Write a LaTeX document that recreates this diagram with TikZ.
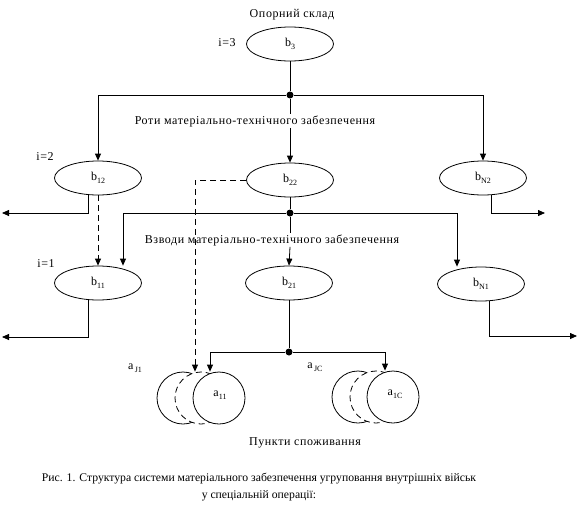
\documentclass[tikz,border=0pt]{standalone}
\usepackage{fontspec}
\setmainfont{Liberation Serif}
\newfontfamily\lblfont[LetterSpace=5]{Liberation Serif}
\usetikzlibrary{shapes.geometric,arrows.meta}
\newcommand\mysub[1]{\raisebox{-3pt}{\fontsize{8}{8}\selectfont #1}}
\begin{document}
\begin{tikzpicture}[x=1pt,y=-1pt, line width=0.8pt,
 ell/.style={draw,ellipse,minimum width=87pt,minimum height=34pt,inner sep=0pt,font=\fontsize{12}{14}\selectfont},
 arr/.style={-{Triangle[length=7pt,width=6pt]}},
 dsh/.style={dash pattern=on 6pt off 4pt},
 jdot/.style={circle,fill,inner sep=0pt,minimum size=7pt},
 lbl/.style={font=\lblfont\fontsize{12}{14}\selectfont, inner sep=1pt},
 captext/.style={font=\fontsize{11.7}{17}\selectfont, inner sep=1pt, align=center},
 sublbl/.style={inner sep=0pt,font=\fontsize{12}{14}\selectfont},
 circ/.style={circle,draw,fill=white,minimum size=52pt,inner sep=0pt},
]
\useasboundingbox (0,0) rectangle (578,530);

% texts
\node[lbl] (top) at (292,15) {Опорний склад};
\node[lbl] (i3) at (227,43) {i=3};
\node[lbl] (i2) at (45,157) {i=2};
\node[lbl] (i1) at (46,264) {i=1};
\node[lbl] (rota) at (255,121) {Роти матеріально-технічного забезпечення};
\node[lbl] (vzv) at (272,240) {Взводи матеріально-технічного забезпечення};
\node[lbl] (pnk) at (305,443) {Пункти споживання};
\node[captext] (caption) at (259,487) {Рис. 1. Структура системи матеріального забезпечення угруповання внутрішніх військ\\у спеціальній операції:};

% ellipses
\node[ell] (b3) at (290,44) {b\mysub{3}};
\node[ell] (b12) at (98,178) {b\mysub{12}};
\node[ell] (b22) at (290,180) {b\mysub{22}};
\node[ell] (bN2) at (483,178) {b\mysub{N2}};
\node[ell] (b11) at (98,283) {b\mysub{11}};
\node[ell] (b21) at (289,283) {b\mysub{21}};
\node[ell] (bN1) at (481,284) {b\mysub{N1}};

% junctions
\node[jdot] (j1) at (290,95) {};
\node[jdot] (j2) at (290,213) {};
\node[jdot] (j3) at (289,352) {};

% free ends
\coordinate (l2) at (2,213);
\coordinate (r2) at (545,213);
\coordinate (l1) at (2,337);
\coordinate (r1) at (577,336);

% consumer circles
\node[circ] (c1b) at (183,398) {};
\node[circ,dsh] (c1m) at (201,398) {};
\node[circ] (c1f) at (219,398) {};
\node[circ] (c2b) at (358,397) {};
\node[circ,dsh] (c2m) at (376,397) {};
\node[circ] (c2f) at (393,397) {};
\node[sublbl] (a11) at (220,395) {a\mysub{11}};
\node[sublbl] (a1c) at (395,394) {a\mysub{1C}};
\node[sublbl] (aj1) at (135,368) {a\mysub{\,J1}};
\node[sublbl] (ajc) at (315,367) {a\mysub{\,JC}};

% level 3 -> 2
\draw (b3.south) -- (j1);
\draw[arr] (j1) -| (b12.north);
\draw[arr] (j1) -| (bN2.north);
\draw (j1) -- (j1 |- rota.north);
\draw[arr] (j1 |- rota.south) -- (b22.north);

% level 2 outputs
\draw[arr] ([xshift=-10pt]b12.south) |- (l2);
\draw[arr] ([xshift=8pt]bN2.south) |- (r2);
\draw[dsh,arr] (b12.south) -- (b11.north);
\draw (b22.south) -- (j2);
\draw[arr] (j2) -| ([xshift=25pt]b11.north);
\draw[arr] (j2) -| ([xshift=-24pt]bN1.north);
\draw (j2) -- (j2 |- vzv.north);
\draw[arr] (j2 |- vzv.south) -- (b21.north);
\draw[dsh,arr] (b22.west) -| ([xshift=-6pt]c1m.north);

% level 1 outputs
\draw[arr] ([xshift=-10pt]b11.south) |- (l1);
\draw[arr] ([xshift=8pt]bN1.south) |- (r1);
\draw (b21.south) -- (j3);
\draw[arr] (j3) -| ([xshift=-9pt]c1f.north);
\draw[arr] (j3) -| ([xshift=-8pt]c2f.north);
\end{tikzpicture}
\end{document}
